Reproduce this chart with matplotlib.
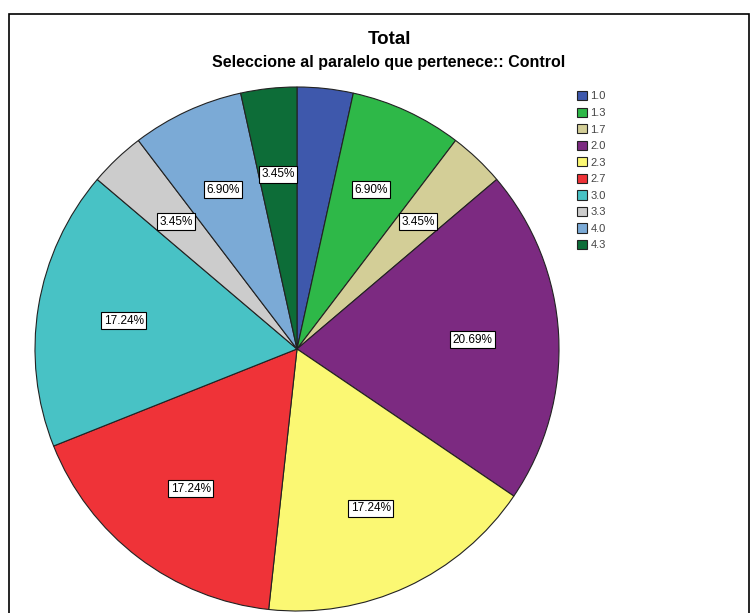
import matplotlib.pyplot as plt
from matplotlib.patches import Rectangle
import numpy as np

plt.rcParams['font.family'] = ['Liberation Sans', 'DejaVu Sans']

# Data
categories = ["1.0", "1.3", "1.7", "2.0", "2.3", "2.7", "3.0", "3.3", "4.0", "4.3"]
percents = [3.45, 6.90, 3.45, 20.69, 17.24, 17.24, 17.24, 3.45, 6.90, 3.45]
shown_labels = ["", "6.90%", "3.45%", "20.69%", "17.24%", "17.24%", "17.24%", "3.45%", "6.90%", "3.45%"]
colors = ["#3E58AC", "#2EB848", "#D3CE97", "#7C2A81", "#FBF873",
          "#EF3338", "#48C2C5", "#CCCCCC", "#7BAAD6", "#0D6D38"]

W, H = 755, 613
fig = plt.figure(figsize=(W / 100, H / 100), dpi=100)

# pie centre (297, 349) px, radius 262 px
cx, cy, r = 297, 349, 262
ax = fig.add_axes([(cx - r) / W, (H - cy - r) / H, 2 * r / W, 2 * r / H])

wedges, texts = ax.pie(percents, colors=colors, startangle=90, counterclock=False,
                       wedgeprops=dict(edgecolor="#222222", linewidth=0.8))
ax.set_xlim(-1, 1)
ax.set_ylim(-1, 1)
ax.set_aspect("equal")
ax.axis("off")

# percentage labels in boxes
for w, lab in zip(wedges, shown_labels):
    if not lab:
        continue
    ang = np.deg2rad((w.theta1 + w.theta2) / 2)
    ax.text(0.67 * np.cos(ang), 0.67 * np.sin(ang), lab, ha="center", va="center",
            fontsize=8.5, bbox=dict(boxstyle="square,pad=0.2", facecolor="white",
                                    edgecolor="black", linewidth=0.8))

fig.text(389 / W, 1 - 40 / H, "Total", ha="center", va="center",
         fontsize=13.5, fontweight="bold")
fig.text(389 / W, 1 - 62 / H, "Seleccione al paralelo que pertenece:: Control",
         ha="center", va="center", fontsize=11.5, fontweight="bold")

fig.legend(wedges, categories, loc="upper left", bbox_to_anchor=(577 / W, 1 - 91 / H),
           frameon=False, fontsize=8, handlelength=0.9, handleheight=0.9,
           handletextpad=0.3, labelspacing=0.55, borderpad=0, borderaxespad=0,
           labelcolor="#444444")

# outer frame
fig.patches.append(Rectangle((9 / W, -0.02), (749 - 9) / W, 1.02 - 14 / H,
                             transform=fig.transFigure, fill=False,
                             edgecolor="black", linewidth=1.2))

fig.savefig("out.png", dpi=100)
